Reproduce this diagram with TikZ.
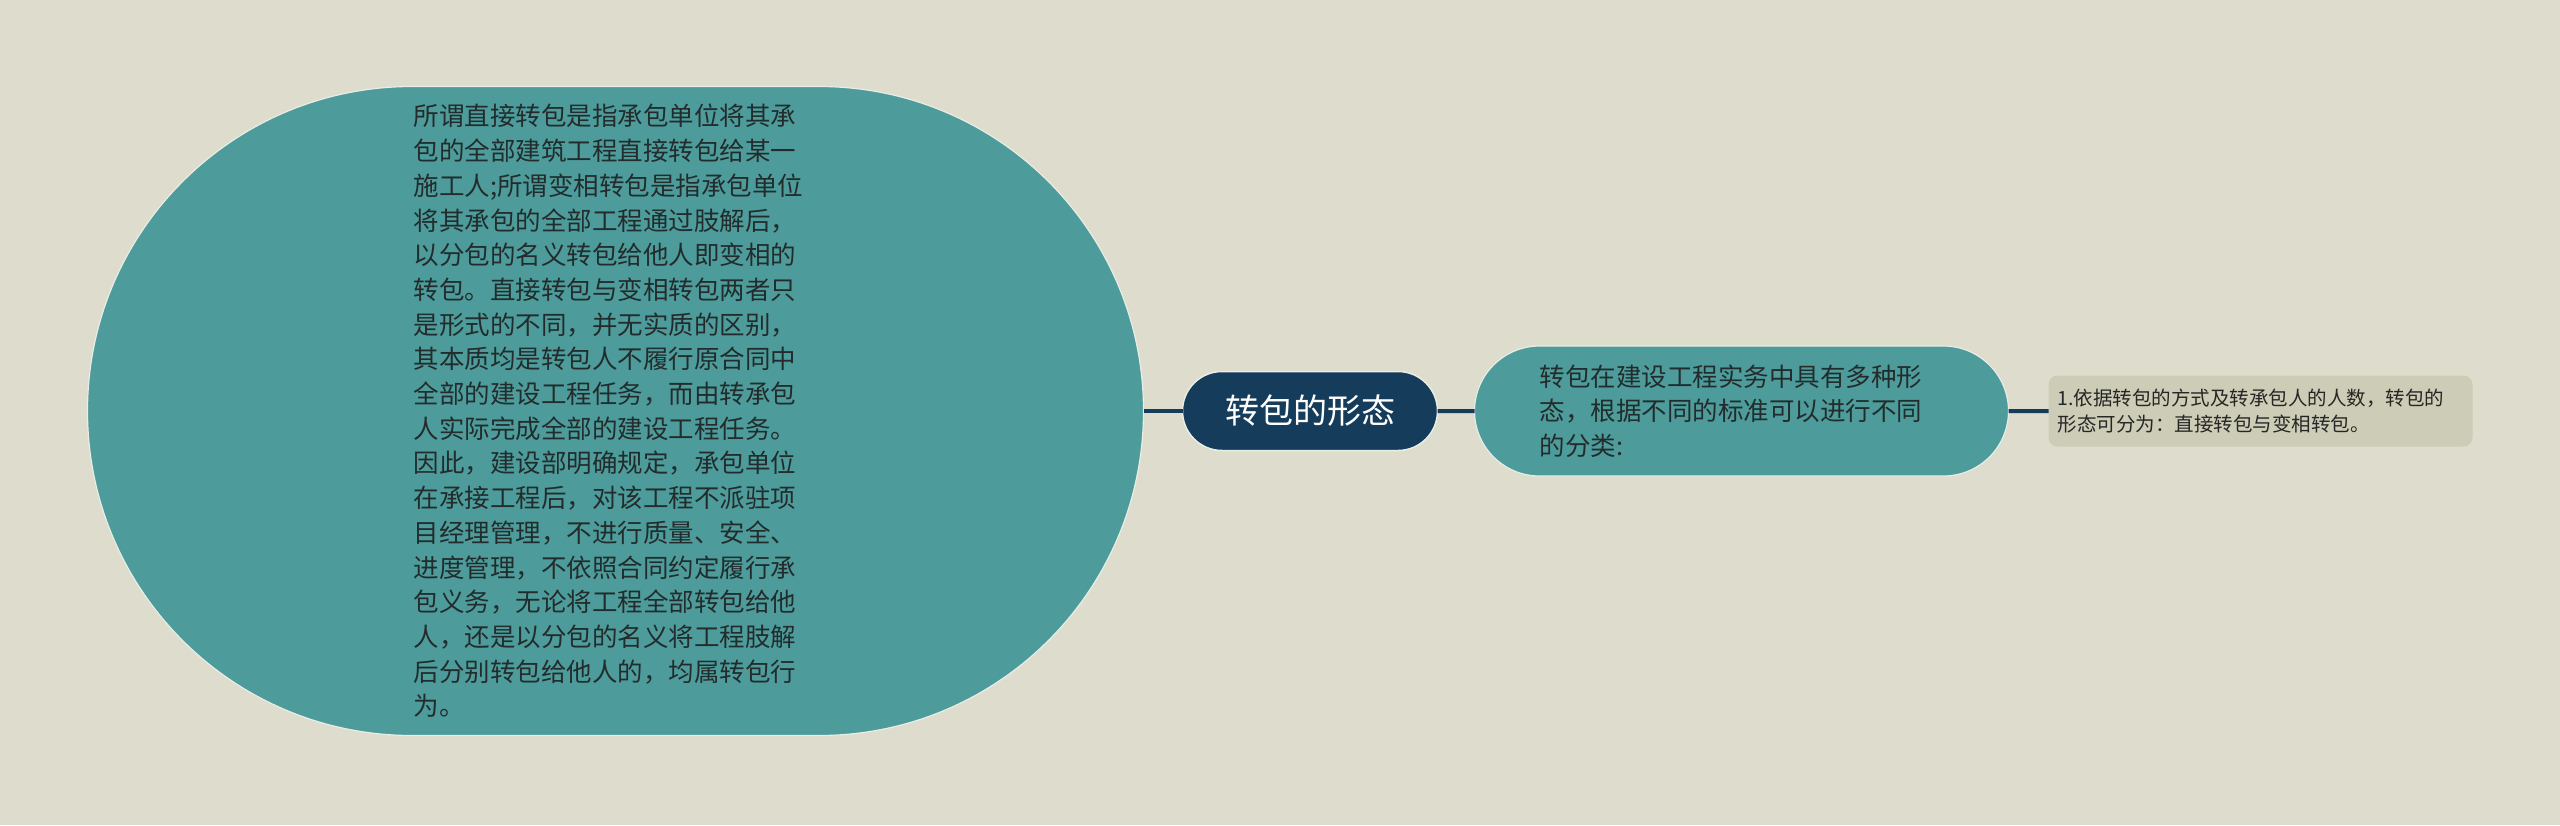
\documentclass[tikz,border=0pt]{standalone}
\usepackage{fontspec}
\setmainfont{Noto Sans CJK SC}
\usetikzlibrary{positioning,shapes.misc}
\definecolor{paper}{RGB}{222,220,205}
\definecolor{navy}{RGB}{22,60,92}
\definecolor{sea}{RGB}{77,156,155}
\definecolor{khaki}{RGB}{205,204,182}
\definecolor{rim}{RGB}{232,238,230}
\definecolor{ink}{RGB}{34,44,44}

\begin{document}
\begin{tikzpicture}[
    x=1pt, y=-1pt,
    all/.style={inner sep=0pt, outer sep=0pt},
    topic/.style={all, rounded rectangle, draw=rim, line width=1.5pt, fill=navy,
        text=white, minimum width=255pt, minimum height=79pt,
        font=\fontsize{34}{40}\selectfont},
    detail/.style={all, rounded rectangle, draw=rim, line width=1.2pt, fill=sea,
        text=ink, align=left, text width=404pt,
        font=\fontsize{25.5}{34.7}\selectfont},
    leaf/.style={all, rectangle, rounded corners=9pt, fill=khaki, text=black!85,
        align=left, text width=406pt, minimum height=71pt, inner xsep=9pt,
        font=\fontsize{19.5}{26}\selectfont},
    link/.style={draw=navy, line width=4pt},
]
    \useasboundingbox (0,0) rectangle (2560,825);
    \fill [paper] (0,0) rectangle (2560,825);

    \node [topic] (form) at (1310,411) {转包的形态};
    \node [detail, left=39pt of form, minimum width=1056pt, minimum height=649pt] (define) {%
        所谓直接转包是指承包单位将其承\\
        包的全部建筑工程直接转包给某一\\
        施工人;所谓变相转包是指承包单位\\
        将其承包的全部工程通过肢解后，\\
        以分包的名义转包给他人即变相的\\
        转包。直接转包与变相转包两者只\\
        是形式的不同，并无实质的区别，\\
        其本质均是转包人不履行原合同中\\
        全部的建设工程任务，而由转承包\\
        人实际完成全部的建设工程任务。\\
        因此，建设部明确规定，承包单位\\
        在承接工程后，对该工程不派驻项\\
        目经理管理，不进行质量、安全、\\
        进度管理，不依照合同约定履行承\\
        包义务，无论将工程全部转包给他\\
        人，还是以分包的名义将工程肢解\\
        后分别转包给他人的，均属转包行\\
        为。};
    \node [detail, right=37pt of form, minimum width=534pt, minimum height=130pt] (kinds) {%
        转包在建设工程实务中具有多种形\\
        态，根据不同的标准可以进行不同\\
        的分类:};
    \node [leaf, right=40pt of kinds] (split) {%
        1.依据转包的方式及转承包人的人数，转包的\\
        形态可分为：直接转包与变相转包。};

    \draw [link] (define) -- (form);
    \draw [link] (form) -- (kinds);
    \draw [link] (kinds) -- (split);
\end{tikzpicture}
\end{document}
